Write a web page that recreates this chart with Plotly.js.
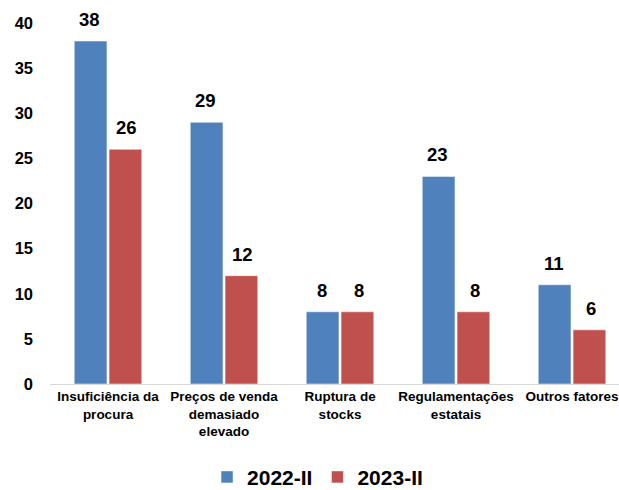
<!DOCTYPE html>
<html><head><meta charset="utf-8">
<script src="https://cdn.plot.ly/plotly-3.0.1.min.js"></script>
<style>html,body{margin:0;padding:0;background:#fff}</style>
</head><body><div id="chart" style="width:619px;height:490px"></div>
<script>
const categories = ["Insuficiência da<br>procura", "Preços de venda<br>demasiado<br>elevado", "Ruptura de<br>stocks", "Regulamentações<br>estatais", "Outros fatores"];
const series2022 = [38, 29, 8, 23, 11];
const series2023 = [26, 12, 8, 8, 6];
const seriesNames = ["2022-II", "2023-II"];
const yTicks = [0, 5, 10, 15, 20, 25, 30, 35, 40];

const FONT = "Liberation Sans, Arial, sans-serif";
const traces = [
  {type: "bar", name: seriesNames[0], x: categories, y: series2022,
   marker: {color: "#4F81BD", line: {color: "#ffffff", width: 0.5}}},
  {type: "bar", name: seriesNames[1], x: categories, y: series2023,
   marker: {color: "#C0504D", line: {color: "#ffffff", width: 0.5}}}
];
const annotations = [];
[series2022, series2023].forEach((s, k) => {
  s.forEach((v, i) => {
    annotations.push({x: categories[i], y: v, xref: "x", yref: "y", text: "<b>" + v + "</b>",
      showarrow: false, yanchor: "bottom", yshift: 9, xshift: k === 0 ? -18.5 : 18.5,
      font: {family: FONT, size: 18.5, color: "#000"}});
  });
});
const layout = {
  width: 619, height: 490,
  margin: {l: 50, r: 0, t: 23, b: 106},
  paper_bgcolor: "#fff", plot_bgcolor: "#fff",
  barmode: "group", bargap: 0.4, bargroupgap: 0.06,
  font: {family: FONT, color: "#000"},
  xaxis: {range: [-0.5, 4.405], showline: true, linecolor: "#d9d9d9", linewidth: 1,
          ticks: "", showgrid: false, tickfont: {family: FONT, size: 13.5, color: "#000", weight: "bold"}},
  yaxis: {range: [0, 40], tickvals: yTicks, showgrid: false, zeroline: false, showline: false,
          ticks: "", ticklabelstandoff: 16, tickfont: {family: FONT, size: 16.5, color: "#000", weight: "bold"}},
  showlegend: true,
  legend: {orientation: "h", xref: "container", yref: "container", x: 0.513, xanchor: "center",
           y: 0.026, yanchor: "middle",
           font: {family: FONT, size: 21, color: "#000", weight: "bold"}, itemwidth: 30, traceorder: "normal"},
  annotations: annotations
};
Plotly.newPlot("chart", traces, layout, {displayModeBar: false, staticPlot: true});
</script></body></html>
